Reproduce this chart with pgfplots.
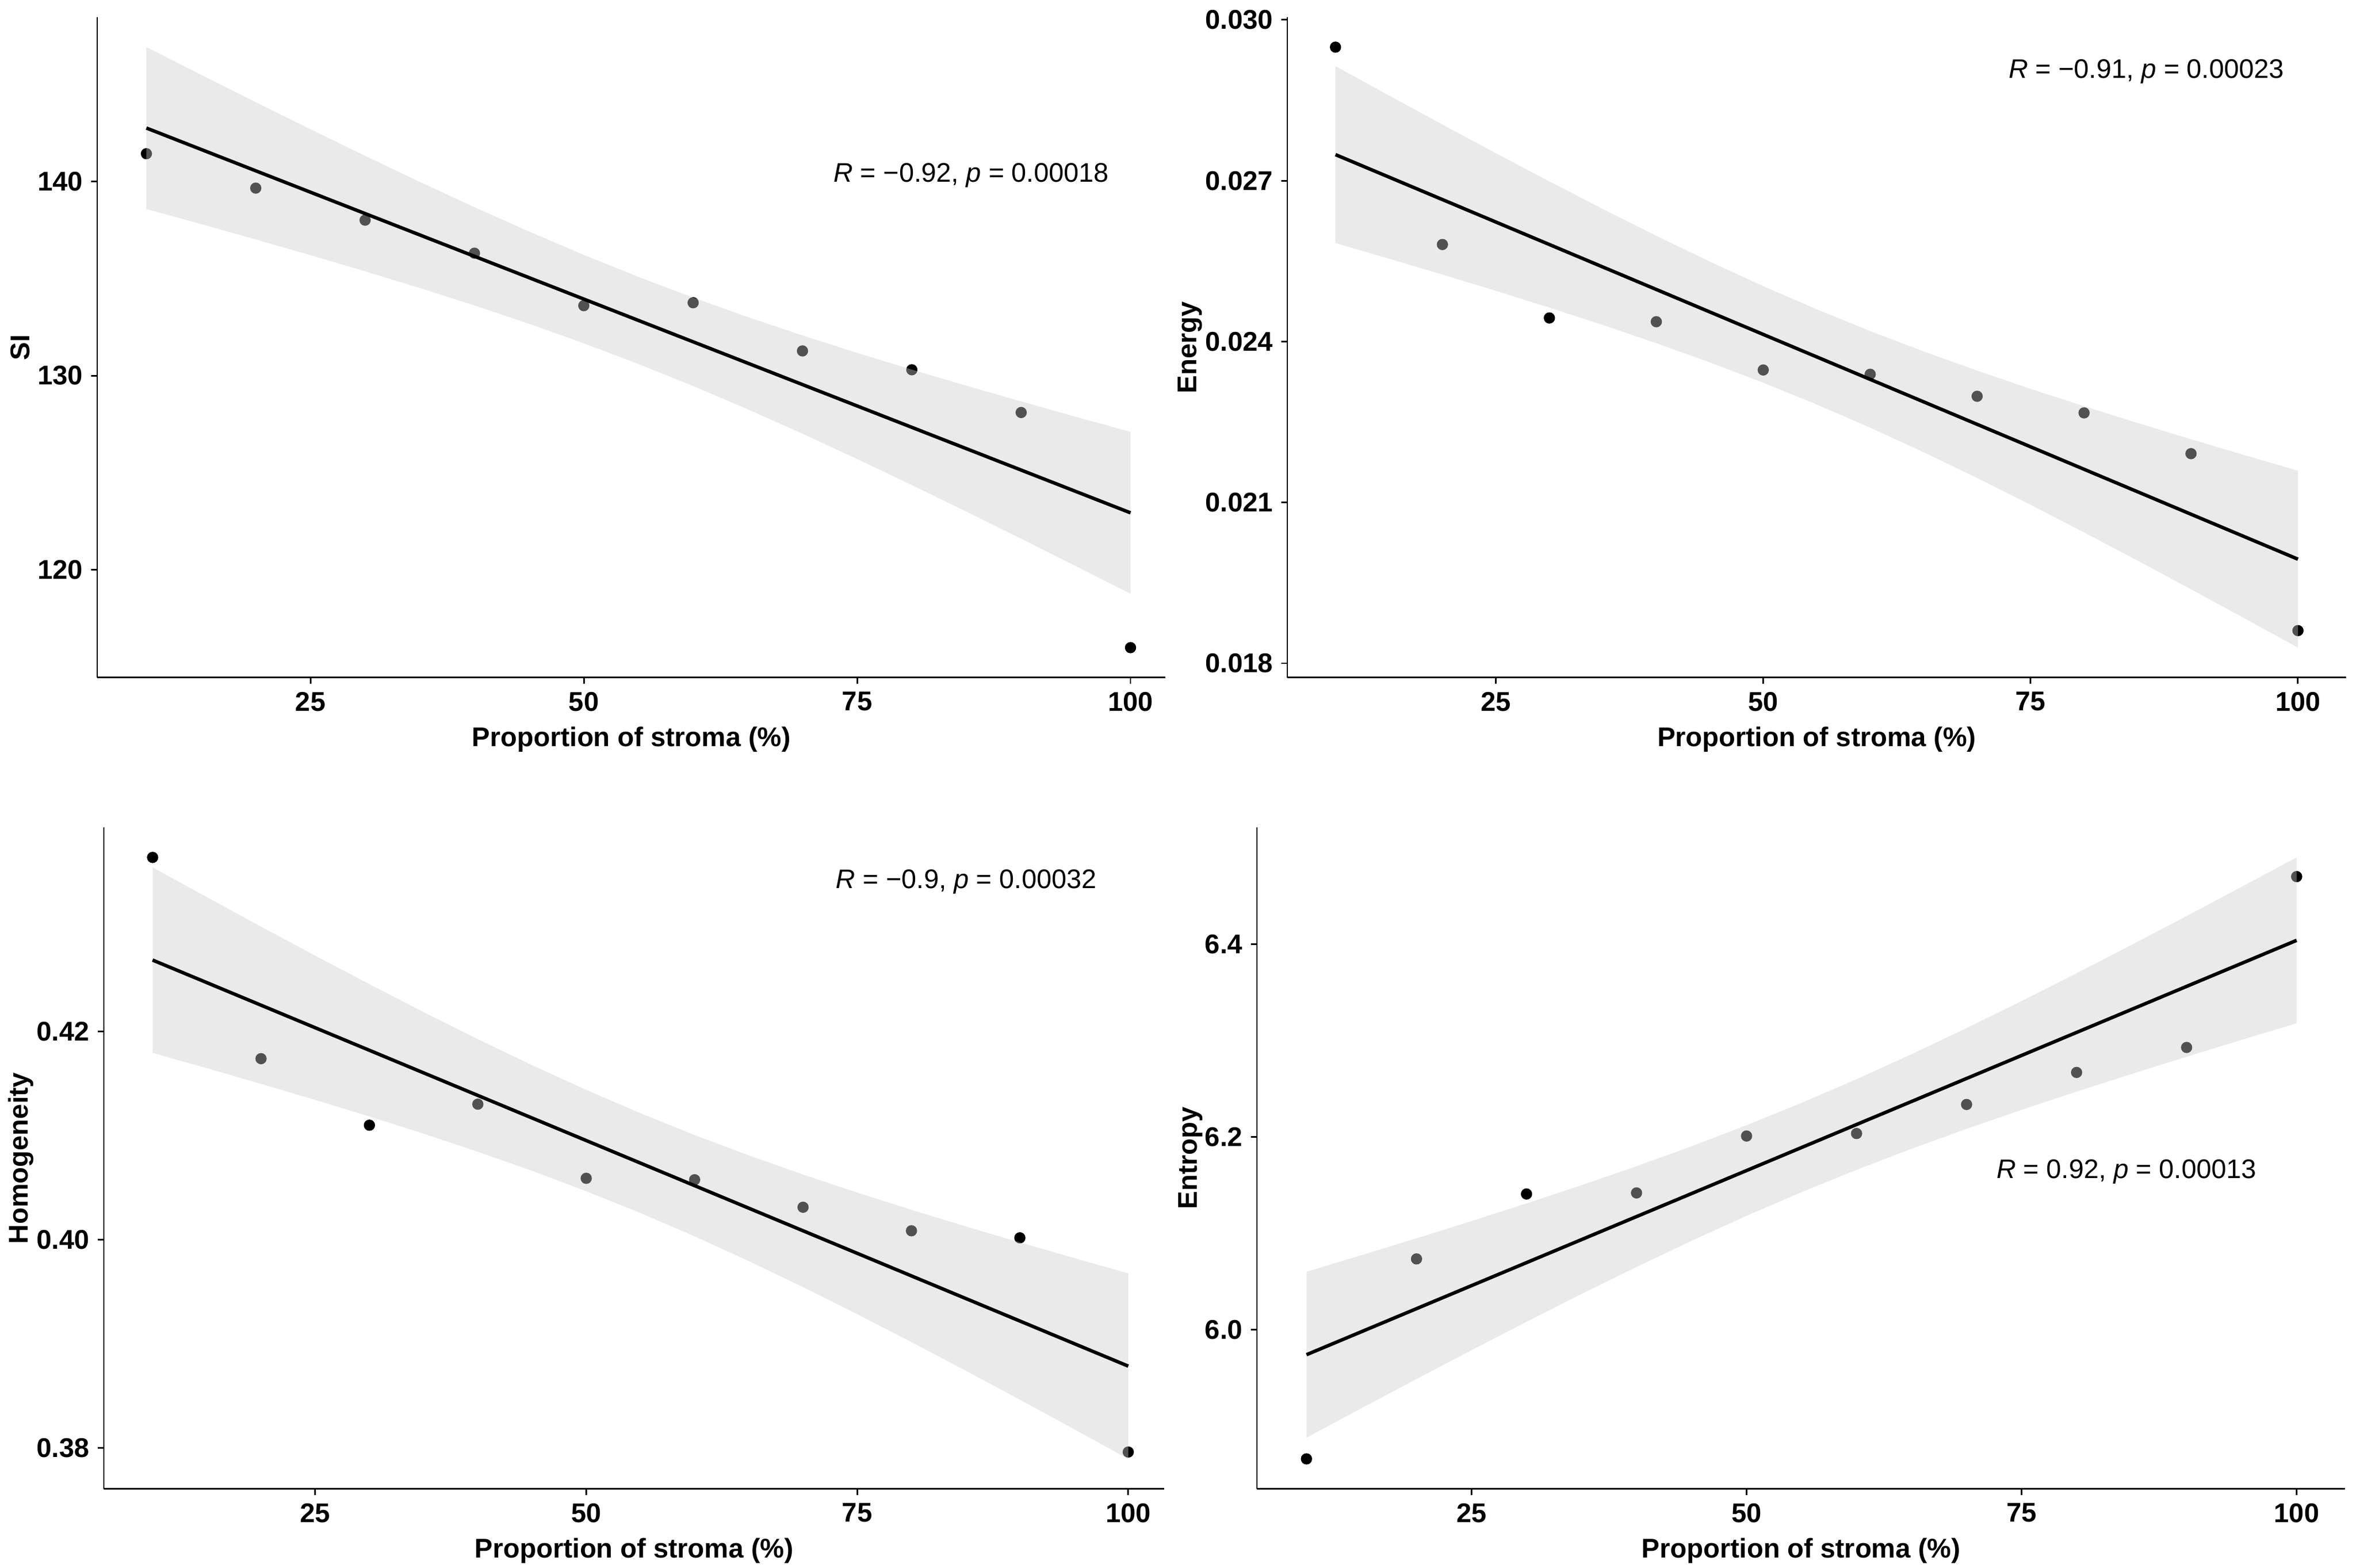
\documentclass[border=0pt]{standalone}
\usepackage{fontspec}
\setmainfont{Liberation Sans}
\usepackage{pgfplots}
\pgfplotsset{compat=1.18}
\definecolor{bandgray}{gray}{0.8}
\pgfplotsset{gg/.style={
  scale only axis, clip mode=individual,
  axis x line*=bottom, axis y line*=left,
  axis line style={line width=0.7pt,-},
  tick align=outside, major tick length=2.75pt,
  tick style={black,line width=0.7pt},
  xtick={25,50,75,100}, xmin=5.5,
  scaled ticks=false,
  /pgf/number format/assume math mode=true,
  tick label style={font=\fontsize{11.8}{14}\selectfont\bfseries},
  label style={font=\fontsize{11.8}{14}\selectfont\bfseries},
  xlabel={Proportion of stroma (\%)},
  anchor=south west,
}}
\pgfplotsset{ylab/.style={ylabel style={at={(axis description cs:-#1,0.5)}, anchor=center}}}
\pgfplotsset{pts/.style={only marks, mark=*, mark size=2.25pt, black}}
\pgfplotsset{band/.style={fill=bandgray, fill opacity=0.4, draw=none}}
\pgfplotsset{fit/.style={black, line width=1.5pt, no marks}}
\newcommand{\ann}[1]{\fontsize{11.7}{14}\selectfont #1}
\begin{document}
\begin{tikzpicture}
\path[use as bounding box, fill=white] (0pt,0pt) rectangle (1027.68pt,683.91pt);

% Panel 1: SI
\begin{axis}[gg, at={(42.40pt,388.33pt)}, width=465.9pt, height=288.1pt,
  xmax=103.18, ymin=114.455, ymax=148.45, ytick={120,130,140}, ylabel={SI}, ylab=0.0719]
\addplot[pts] coordinates {(10,141.42)(20,139.65)(30,138.0)(40,136.3)(50,133.6)(60,133.75)(70,131.27)(80,130.3)(90,128.1)(100,116.0)};
\addplot[band] coordinates {(10,146.905)(15,145.482)(20,144.071)(25,142.679)(30,141.310)(35,139.970)(40,138.667)(45,137.411)(50,136.213)(55,135.079)(60,134.013)(65,133.011)(70,132.065)(75,131.168)(80,130.308)(85,129.477)(90,128.668)(95,127.878)(100,127.101)
(100,118.773)(95,120.196)(90,121.606)(85,122.999)(80,124.368)(75,125.708)(70,127.011)(65,128.267)(60,129.465)(55,130.599)(50,131.665)(45,132.667)(40,133.613)(35,134.510)(30,135.370)(25,136.201)(20,137.009)(15,137.800)(10,138.577)} -- cycle;
\addplot[fit] coordinates {(10,142.741)(100,122.937)};
\node[anchor=west] at (axis cs:72.1,140.3) {\ann{\textit{R} = −0.92, \textit{p} = 0.00018}};
\end{axis}

% Panel 2: Energy
\begin{axis}[gg, at={(561.54pt,388.33pt)}, width=461.8pt, height=288.1pt,
  xmax=104.5, ymin=0.017733, ymax=0.03005, ytick={0.018,0.021,0.024,0.027,0.030},
  yticklabel style={/pgf/number format/.cd, fixed, fixed zerofill, precision=3},
  ylabel={Energy}, ylab=0.0918]
\addplot[pts] coordinates {(10,0.02949)(20,0.02581)(30,0.02444)(40,0.02437)(50,0.02347)(60,0.02339)(70,0.02298)(80,0.02267)(90,0.02191)(100,0.01861)};
\addplot[band] coordinates {(10,0.029135)(15,0.028588)(20,0.028046)(25,0.027512)(30,0.026986)(35,0.026472)(40,0.025972)(45,0.025491)(50,0.025033)(55,0.024601)(60,0.024195)(65,0.023815)(70,0.023458)(75,0.023118)(80,0.022794)(85,0.022482)(90,0.022178)(95,0.021882)(100,0.021591)
(100,0.018293)(95,0.018840)(90,0.019382)(85,0.019916)(80,0.020442)(75,0.020956)(70,0.021456)(65,0.021937)(60,0.022395)(55,0.022827)(50,0.023233)(45,0.023613)(40,0.023970)(35,0.024310)(30,0.024634)(25,0.024946)(20,0.025250)(15,0.025546)(10,0.025837)} -- cycle;
\addplot[fit] coordinates {(10,0.027486)(100,0.019942)};
\node[anchor=west] at (axis cs:72.2,0.029035) {\ann{\textit{R} = −0.91, \textit{p} = 0.00023}};
\end{axis}

% Panel 3: Homogeneity
\begin{axis}[gg, at={(45.29pt,34.45pt)}, width=462.5pt, height=288.6pt,
  xmax=103.31, ymin=0.37607, ymax=0.43962, ytick={0.38,0.40,0.42},
  yticklabel style={/pgf/number format/.cd, fixed, fixed zerofill, precision=2},
  ylabel={Homogeneity}, ylab=0.0781]
\addplot[pts] coordinates {(10,0.43673)(20,0.41740)(30,0.41101)(40,0.41303)(50,0.40591)(60,0.40577)(70,0.40313)(80,0.40087)(90,0.40019)(100,0.37962)};
\addplot[band] coordinates {(10,0.43577)(15,0.43291)(20,0.43008)(25,0.42729)(30,0.42455)(35,0.42187)(40,0.41927)(45,0.41677)(50,0.41440)(55,0.41216)(60,0.41006)(65,0.40811)(70,0.40627)(75,0.40454)(80,0.40288)(85,0.40129)(90,0.39975)(95,0.39825)(100,0.39677)
(100,0.37896)(95,0.38182)(90,0.38465)(85,0.38744)(80,0.39018)(75,0.39286)(70,0.39546)(65,0.39796)(60,0.40034)(55,0.40258)(50,0.40467)(45,0.40663)(40,0.40846)(35,0.41020)(30,0.41185)(25,0.41344)(20,0.41498)(15,0.41649)(10,0.41796)} -- cycle;
\addplot[fit] coordinates {(10,0.42687)(100,0.38787)};
\node[anchor=west] at (axis cs:72.3,0.43438) {\ann{\textit{R} = −0.9, \textit{p} = 0.00032}};
\end{axis}

% Panel 4: Entropy
\begin{axis}[gg, at={(548.29pt,34.45pt)}, width=474.6pt, height=288.6pt,
  xmax=104.4, ymin=5.8351, ymax=6.5210, ytick={6.0,6.2,6.4},
  yticklabel style={/pgf/number format/.cd, fixed, fixed zerofill, precision=1},
  ylabel={Entropy}, ylab=0.0613]
\addplot[pts] coordinates {(10,5.8663)(20,6.0736)(30,6.1409)(40,6.1420)(50,6.2010)(60,6.2036)(70,6.2337)(80,6.2669)(90,6.2928)(100,6.4699)};
\addplot[band] coordinates {(10,6.06027)(15,6.07746)(20,6.09493)(25,6.11278)(30,6.13107)(35,6.14998)(40,6.16965)(45,6.19032)(50,6.21215)(55,6.23532)(60,6.25987)(65,6.28576)(70,6.31283)(75,6.34088)(80,6.36969)(85,6.39912)(90,6.42901)(95,6.45926)(100,6.48979)
(100,6.31787)(95,6.30068)(90,6.28321)(85,6.26536)(80,6.24707)(75,6.22816)(70,6.20849)(65,6.18782)(60,6.16599)(55,6.14282)(50,6.11827)(45,6.09238)(40,6.06531)(35,6.03726)(30,6.00845)(25,5.97902)(20,5.94913)(15,5.91888)(10,5.88835)} -- cycle;
\addplot[fit] coordinates {(10,5.97431)(100,6.40383)};
\node[anchor=west] at (axis cs:72.0,6.1642) {\ann{\textit{R} = 0.92, \textit{p} = 0.00013}};
\end{axis}
\end{tikzpicture}
\end{document}
